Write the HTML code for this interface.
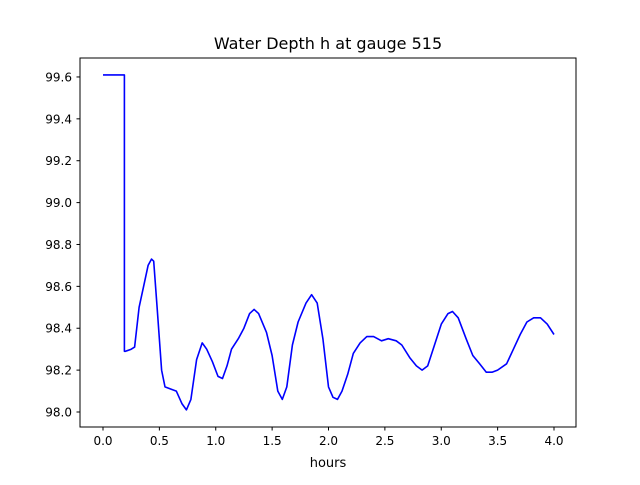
<!DOCTYPE html>
<html><head><meta charset="utf-8"><style>
body{margin:0;background:#fff;font-family:"Liberation Sans","DejaVu Sans",sans-serif;}
svg text{font-family:"DejaVu Sans","Liberation Sans",sans-serif;}
</style></head><body>
<svg id="chart" width="640" height="480" viewBox="0 0 640 480">
<rect x="0" y="0" width="640" height="480" fill="#fff"/>
<text x="328" y="49" font-size="16" text-anchor="middle">Water Depth h at gauge 515</text>
<g id="plot"></g>
<rect x="80" y="58" width="496" height="369" fill="none" stroke="#000" stroke-width="1"/>
<text x="328" y="467" font-size="13" text-anchor="middle">hours</text>
</svg>
<script>
const xTicks=[0.0,0.5,1.0,1.5,2.0,2.5,3.0,3.5,4.0];
const yTicks=[98.0,98.2,98.4,98.6,98.8,99.0,99.2,99.4,99.6];
const hours=[0,0.19,0.19,0.2,0.25,0.28,0.32,0.36,0.4,0.43,0.45,0.48,0.52,0.55,0.6,0.65,0.7,0.74,0.78,0.83,0.88,0.92,0.97,1.02,1.06,1.1,1.14,1.2,1.25,1.3,1.34,1.38,1.45,1.5,1.55,1.59,1.63,1.68,1.73,1.8,1.85,1.9,1.95,2.0,2.04,2.08,2.12,2.17,2.22,2.28,2.34,2.4,2.47,2.53,2.6,2.65,2.72,2.78,2.83,2.88,2.94,3.0,3.06,3.1,3.15,3.22,3.28,3.34,3.4,3.45,3.5,3.58,3.64,3.7,3.76,3.82,3.88,3.94,4.0];
const depth=[99.61,99.61,98.29,98.29,98.3,98.31,98.5,98.6,98.7,98.73,98.72,98.5,98.2,98.12,98.11,98.1,98.04,98.01,98.06,98.25,98.33,98.3,98.24,98.17,98.16,98.22,98.3,98.35,98.4,98.47,98.49,98.47,98.38,98.27,98.1,98.06,98.12,98.32,98.43,98.52,98.56,98.52,98.35,98.12,98.07,98.06,98.1,98.18,98.28,98.33,98.36,98.36,98.34,98.35,98.34,98.32,98.26,98.22,98.2,98.22,98.32,98.42,98.47,98.48,98.45,98.35,98.27,98.23,98.19,98.19,98.2,98.23,98.3,98.37,98.43,98.45,98.45,98.42,98.37];
const NS="http://www.w3.org/2000/svg";
const X=v=>103+v*112.75;
const Y=v=>412-(v-98.0)*209.4;
const g=document.getElementById('plot');
function mk(t,a){const e=document.createElementNS(NS,t);for(const k in a)e.setAttribute(k,a[k]);return e;}
xTicks.forEach(t=>{
 const l=mk('line',{x1:X(t),x2:X(t),y1:427,y2:430.5,stroke:'#000'});
 
 
 g.appendChild(l);
 const tx=mk('text',{x:X(t),y:445,'font-size':12,'text-anchor':'middle'});
 
 
 tx.textContent=t.toFixed(1);g.appendChild(tx);
});
yTicks.forEach(t=>{
 const l=mk('line',{x1:76.5,x2:80,y1:Y(t),y2:Y(t),stroke:'#000'});
 
 
 g.appendChild(l);
 const tx=mk('text',{x:72,y:Y(t)+4.5,'font-size':12,'text-anchor':'end'});
 
 
 tx.textContent=t.toFixed(1);g.appendChild(tx);
});
const pts=hours.map((h,i)=>X(h).toFixed(1)+','+Y(depth[i]).toFixed(1)).join(' ');
const pl=mk('polyline',{points:pts,fill:'none',stroke:'#0000ff','stroke-width':1.6,'stroke-linejoin':'round'});


g.appendChild(pl);
</script>
</body></html>
